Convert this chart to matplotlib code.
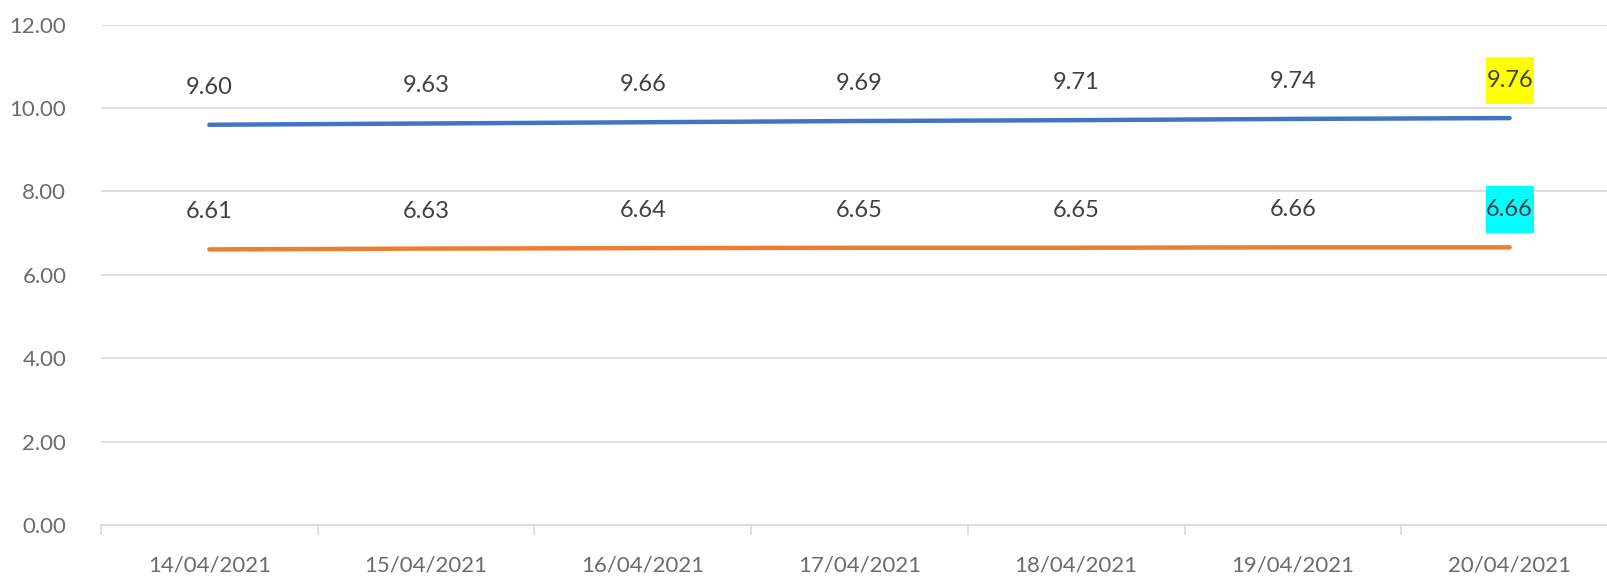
import matplotlib.pyplot as plt
import numpy as np
from matplotlib.patches import Rectangle

dates = ["14/04/2021", "15/04/2021", "16/04/2021", "17/04/2021",
         "18/04/2021", "19/04/2021", "20/04/2021"]
series_blue = [9.60, 9.63, 9.66, 9.69, 9.71, 9.74, 9.76]
series_orange = [6.61, 6.63, 6.64, 6.65, 6.65, 6.66, 6.66]
y_ticks = [0, 2, 4, 6, 8, 10, 12]

plt.rcParams["font.family"] = ["Lato", "DejaVu Sans"]

fig = plt.figure(figsize=(16.07, 5.8), dpi=100)
ax = fig.add_axes([101 / 1607, 55 / 580, 1517 / 1607, 500.3 / 580])

x = np.arange(len(dates))
ax.plot(x, series_blue, color="#4472C4", lw=3.2, solid_capstyle="round", zorder=3)
ax.plot(x, series_orange, color="#ED7D31", lw=3.2, solid_capstyle="round", zorder=3)

# data labels sit ~0.9 units above each point
lift = 0.9
last = len(dates) - 1
for i, (b, o) in enumerate(zip(series_blue, series_orange)):
    for v, hl in [(b, "#FFFF00"), (o, "#00FFFF")]:
        if i == last:
            ax.add_patch(Rectangle((i - 0.111, v + lift - 0.565), 0.222, 1.13,
                                   facecolor=hl, edgecolor="none", zorder=4))
        ax.text(i, v + lift, f"{v:.2f}", ha="center", va="center",
                fontsize=17, color="#404040", zorder=5)

ax.set_xlim(-0.5, len(dates) - 0.5)
ax.set_ylim(0, 12)
ax.set_yticks(y_ticks)
ax.set_yticklabels([f"{v:.2f}" for v in y_ticks])
ax.set_xticks(x)
ax.set_xticklabels(dates)
ax.set_xticks(np.arange(len(dates)) - 0.5, minor=True)

ax.grid(axis="y", color="#D9D9D9", lw=1.2)
ax.set_axisbelow(True)
for side in ["top", "right", "left"]:
    ax.spines[side].set_visible(False)
ax.spines["bottom"].set_color("#D9D9D9")
ax.spines["bottom"].set_linewidth(1.2)

ax.tick_params(axis="y", length=0, pad=25, labelsize=16, labelcolor="#6b6b6b")
ax.tick_params(axis="x", which="major", length=0, pad=22, labelsize=16,
               labelcolor="#6b6b6b")
ax.tick_params(axis="x", which="minor", length=7, width=1.2, color="#D9D9D9")

fig.savefig("out.png", dpi=100)
